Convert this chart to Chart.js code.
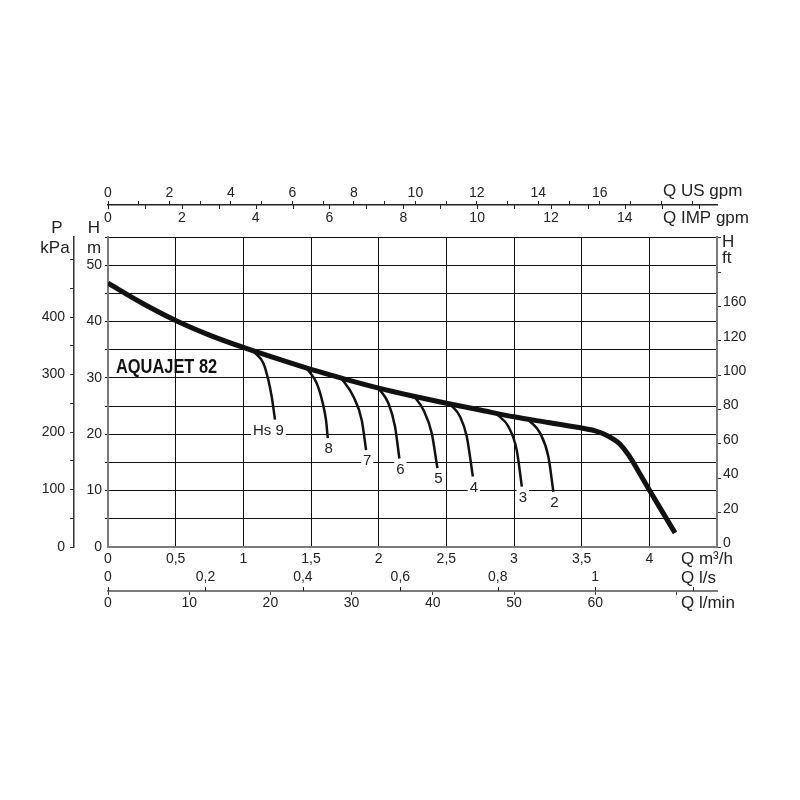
<!DOCTYPE html>
<html>
<head>
<meta charset="utf-8">
<script src="https://cdn.jsdelivr.net/npm/chart.js@4/dist/chart.umd.min.js"></script>
<style>
html,body{margin:0;padding:0;background:#fff;}
#wrap{width:800px;height:800px;}
</style>
</head>
<body>
<div id="wrap"><canvas id="c" width="800" height="800"></canvas></div>
<script>
// ---- data (Q in m3/h, H in m) ----
const mainQ = [0, 0.25, 0.5, 0.75, 1.0, 1.25, 1.5, 1.75, 2.0, 2.25, 2.5, 2.75, 3.0, 3.25, 3.5, 3.6, 3.66, 3.73, 3.78, 3.85, 3.92, 4.0, 4.1, 4.19];
const mainH = [46.8, 43.3, 40.2, 37.6, 35.4, 33.4, 31.5, 29.8, 28.2, 26.8, 25.5, 24.3, 23.1, 22.1, 21.1, 20.6, 20.1, 19.2, 18.3, 16.2, 13.4, 10.1, 6.1, 2.5];

const branchNames = ['9', '8', '7', '6', '5', '4', '3', '2'];
const b9Q = [1.08, 1.148, 1.185, 1.210, 1.234];
const b9H = [34.6, 32.6, 29.6, 26.6, 22.6];
const b8Q = [1.469, 1.543, 1.587, 1.611, 1.624];
const b8H = [31.7, 29.0, 25.5, 22.5, 19.3];
const b7Q = [1.727, 1.813, 1.875, 1.907];
const b7H = [29.85, 26.7, 22.5, 17.2];
const b6Q = [1.998, 2.072, 2.121, 2.153];
const b6H = [28.2, 25.5, 21.35, 15.7];
const b5Q = [2.257, 2.331, 2.392, 2.434];
const b5H = [26.9, 24.3, 20.2, 14.0];
const b4Q = [2.528, 2.602, 2.651, 2.696];
const b4H = [25.35, 23.1, 19.6, 12.5];
const b3Q = [2.873, 2.959, 3.02, 3.058];
const b3H = [23.55, 21.35, 17.2, 10.7];
const b2Q = [3.107, 3.193, 3.254, 3.291];
const b2H = [22.55, 20.2, 16.0, 9.8];

// ---- tick labels ----
const m3hTickLabels = ['0', '0,5', '1', '1,5', '2', '2,5', '3', '3,5', '4', ''];
const lsTickLabels = ['0', '0,2', '0,4', '0,6', '0,8', '1', ''];
const lminTickLabels = ['0', '10', '20', '30', '40', '50', '60', ''];
const usTickLabels = ['0', '', '2', '', '4', '', '6', '', '8', '', '10', '', '12', '', '14', '', '16', '', '', ''];
const impTickLabels = ['0', '', '2', '', '4', '', '6', '', '8', '', '10', '', '12', '', '14', '', ''];
const hmTickLabels = ['0', '', '10', '', '20', '', '30', '', '40', '', '50', ''];
const kpaTickLabels = ['0', '', '100', '', '200', '', '300', '', '400', '', '', ''];
const ftTickLabels = ['0', '20', '40', '60', '80', '100', '120', '160', '', ''];

// ---- unit conversions ----
const H_MAX = 55, Q_MAX = 4.5;
const KPA_PER_M = 9.80665, FT_PER_M = 1 / 0.3048;
const USGPM_PER_M3H = 4.40287, IMPGPM_PER_M3H = 3.66615, LS_PER_M3H = 1 / 3.6, LMIN_PER_M3H = 1000 / 60;

const FONT = "'Liberation Sans', Arial, sans-serif";
const TXT = '#222';
const AXIS_GRAY = '#7a7a7a';

function pts(qs, hs) { return qs.map((q, i) => ({ x: q, y: hs[i] })); }
const branchSets = [[b9Q, b9H], [b8Q, b8H], [b7Q, b7H], [b6Q, b6H], [b5Q, b5H], [b4Q, b4H], [b3Q, b3H], [b2Q, b2H]];

const datasets = [{
  label: 'AQUAJET 82',
  data: pts(mainQ, mainH),
  borderColor: '#111', borderWidth: 5, pointRadius: 0,
  cubicInterpolationMode: 'monotone', fill: false
}];
branchSets.forEach((b, i) => {
  datasets.push({
    label: 'Hs ' + branchNames[i],
    data: pts(b[0], b[1]),
    borderColor: '#111', borderWidth: 2.5, pointRadius: 0,
    cubicInterpolationMode: 'monotone', fill: false
  });
});

const fromArr = arr => (v, i) => (arr[i] !== undefined ? arr[i] : '');
const tickFont = { family: FONT, size: 14 };
const hideEdge = (edgeVals) => (ctx) => {
  const v = ctx.tick ? ctx.tick.value : null;
  return edgeVals.some(e => Math.abs(e - v) < 1e-6) ? 'rgba(0,0,0,0)' : '#111';
};

const extras = {
  id: 'extras',
  afterDraw(chart) {
    const ctx = chart.ctx, s = chart.scales, ca = chart.chartArea;
    ctx.save();
    // IMP gpm ticks hanging down from the US gpm line
    ctx.strokeStyle = '#222'; ctx.lineWidth = 1;
    const topLine = s.us.bottom;
    s.imp.ticks.forEach(t => {
      const x = Math.round(s.imp.getPixelForValue(t.value)) + 0.5;
      ctx.beginPath(); ctx.moveTo(x, topLine); ctx.lineTo(x, topLine + 4); ctx.stroke();
    });
    // l/s ticks pointing up from the l/min line
    const botLine = s.lmin.top;
    s.ls.ticks.forEach(t => {
      const x = Math.round(s.ls.getPixelForValue(t.value)) + 0.5;
      ctx.beginPath(); ctx.moveTo(x, botLine); ctx.lineTo(x, botLine - 4); ctx.stroke();
    });

    // branch labels
    ctx.font = '15px ' + FONT;
    ctx.textBaseline = 'middle';
    branchSets.forEach((b, i) => {
      const n = b[0].length - 1;
      const px = s.x.getPixelForValue(b[0][n]);
      const py = s.y.getPixelForValue(b[1][n]) + 11;
      let txt = branchNames[i];
      let lx;
      if (i === 0) { txt = 'Hs ' + txt; ctx.textAlign = 'left'; lx = px - 22; }
      else { ctx.textAlign = 'center'; lx = px + 1; }
      const w = ctx.measureText(txt).width;
      ctx.fillStyle = '#fff';
      const bx = ctx.textAlign === 'center' ? lx - w / 2 - 2 : lx - 2;
      ctx.fillRect(bx, py - 8, w + 4, 16);
      ctx.fillStyle = TXT;
      ctx.fillText(txt, lx, py);
    });

    // model name
    ctx.save();
    ctx.translate(ca.left + 8, s.y.getPixelForValue(31.8));
    ctx.scale(0.82, 1);
    ctx.font = 'bold 20px ' + FONT;
    ctx.textAlign = 'left'; ctx.textBaseline = 'middle';
    ctx.fillStyle = '#111';
    ctx.fillText('AQUAJET 82', 0, 0);
    ctx.restore();

    // axis titles
    ctx.fillStyle = TXT;
    ctx.font = '17px ' + FONT;
    ctx.textAlign = 'left'; ctx.textBaseline = 'middle';
    ctx.fillText('Q US gpm', ca.right - 54, topLine - 14);
    ctx.fillText('Q IMP gpm', ca.right - 54, topLine + 13);
    ctx.fillText('Q m³/h', ca.right - 36, ca.bottom + 12);
    ctx.fillText('Q l/s', ca.right - 36, ca.bottom + 31);
    ctx.fillText('Q l/min', ca.right - 36, botLine + 12);
    ctx.fillText('H', ca.right + 5, ca.top + 5);
    ctx.fillText('ft', ca.right + 5, ca.top + 21);
    ctx.textAlign = 'center';
    ctx.fillText('P', 57, ca.top - 9);
    ctx.fillText('kPa', 55, ca.top + 11);
    ctx.fillText('H', 94, ca.top - 9);
    ctx.fillText('m', 94, ca.top + 11);
    ctx.restore();
  }
};

new Chart(document.getElementById('c'), {
  type: 'line',
  data: { datasets },
  plugins: [extras],
  options: {
    responsive: false,
    animation: false,
    devicePixelRatio: 1,
    layout: { padding: { left: 34, top: 173, right: 43, bottom: 185 } },
    plugins: { legend: { display: false }, tooltip: { enabled: false }, title: { display: false } },
    elements: { line: { borderCapStyle: 'butt' } },
    scales: {
      x: {
        type: 'linear', position: 'bottom', weight: 0, min: 0, max: Q_MAX,
        afterFit: sc => { sc.height = 20; },
        grid: { color: hideEdge([0, Q_MAX]), lineWidth: 1, drawTicks: false },
        border: { color: AXIS_GRAY, width: 2 },
        ticks: { stepSize: 0.5, autoSkip: false, maxRotation: 0, includeBounds: false, padding: 4, color: TXT, font: tickFont, callback: fromArr(m3hTickLabels) }
      },
      ls: {
        type: 'linear', axis: 'x', position: 'bottom', weight: 1, min: 0, max: Q_MAX * LS_PER_M3H,
        afterFit: sc => { sc.height = 24; },
        grid: { display: false, drawTicks: false },
        border: { display: false },
        ticks: { stepSize: 0.2, autoSkip: false, maxRotation: 0, includeBounds: false, padding: 2, color: TXT, font: tickFont, callback: fromArr(lsTickLabels) }
      },
      lmin: {
        type: 'linear', axis: 'x', position: 'bottom', weight: 2, min: 0, max: Q_MAX * LMIN_PER_M3H,
        afterFit: sc => { sc.height = 24; },
        grid: { display: true, drawOnChartArea: false, drawTicks: true, tickLength: 4, color: '#444' },
        border: { color: AXIS_GRAY, width: 2 },
        ticks: { stepSize: 10, autoSkip: false, maxRotation: 0, includeBounds: false, padding: 0, color: TXT, font: tickFont, callback: fromArr(lminTickLabels) }
      },
      us: {
        type: 'linear', axis: 'x', position: 'top', weight: 1, min: 0, max: Q_MAX * USGPM_PER_M3H,
        afterFit: sc => { sc.height = 32; },
        grid: { display: true, drawOnChartArea: false, drawTicks: true, tickLength: 4, color: '#222' },
        border: { color: '#222', width: 1.5 },
        ticks: { stepSize: 1, autoSkip: false, maxRotation: 0, includeBounds: false, padding: -1, color: TXT, font: tickFont, callback: fromArr(usTickLabels) }
      },
      imp: {
        type: 'linear', axis: 'x', position: 'top', weight: 0, min: 0, max: Q_MAX * IMPGPM_PER_M3H,
        afterFit: sc => { sc.height = 32; },
        grid: { display: false, drawTicks: false },
        border: { display: false },
        ticks: { stepSize: 1, autoSkip: false, maxRotation: 0, includeBounds: false, padding: 10, color: TXT, font: tickFont, callback: fromArr(impTickLabels) }
      },
      y: {
        type: 'linear', position: 'left', weight: 0, min: 0, max: H_MAX,
        afterFit: sc => { sc.width = 34; },
        grid: { color: hideEdge([0]), lineWidth: 1, drawTicks: true, tickLength: 3 },
        border: { color: AXIS_GRAY, width: 2 },
        ticks: { stepSize: 5, autoSkip: false, includeBounds: false, padding: 3, color: TXT, font: tickFont, callback: fromArr(hmTickLabels) }
      },
      kpa: {
        type: 'linear', axis: 'y', position: 'left', weight: 1, min: 0, max: H_MAX * KPA_PER_M,
        afterFit: sc => { sc.width = 40; },
        grid: { display: true, drawOnChartArea: false, drawTicks: true, tickLength: 4, color: '#333' },
        border: { color: '#333', width: 1.5 },
        ticks: { stepSize: 50, autoSkip: false, includeBounds: false, padding: 5, color: TXT, font: tickFont, callback: fromArr(kpaTickLabels) }
      },
      ft: {
        type: 'linear', axis: 'y', position: 'right', weight: 0, min: 0, max: H_MAX * FT_PER_M,
        afterFit: sc => { sc.width = 40; },
        grid: { display: true, drawOnChartArea: false, drawTicks: true, tickLength: 4, color: '#333' },
        border: { color: AXIS_GRAY, width: 2 },
        ticks: { stepSize: 20, autoSkip: false, includeBounds: false, padding: 2, labelOffset: -4, color: TXT, font: tickFont, callback: fromArr(ftTickLabels) }
      }
    }
  }
});
</script>
</body>
</html>
